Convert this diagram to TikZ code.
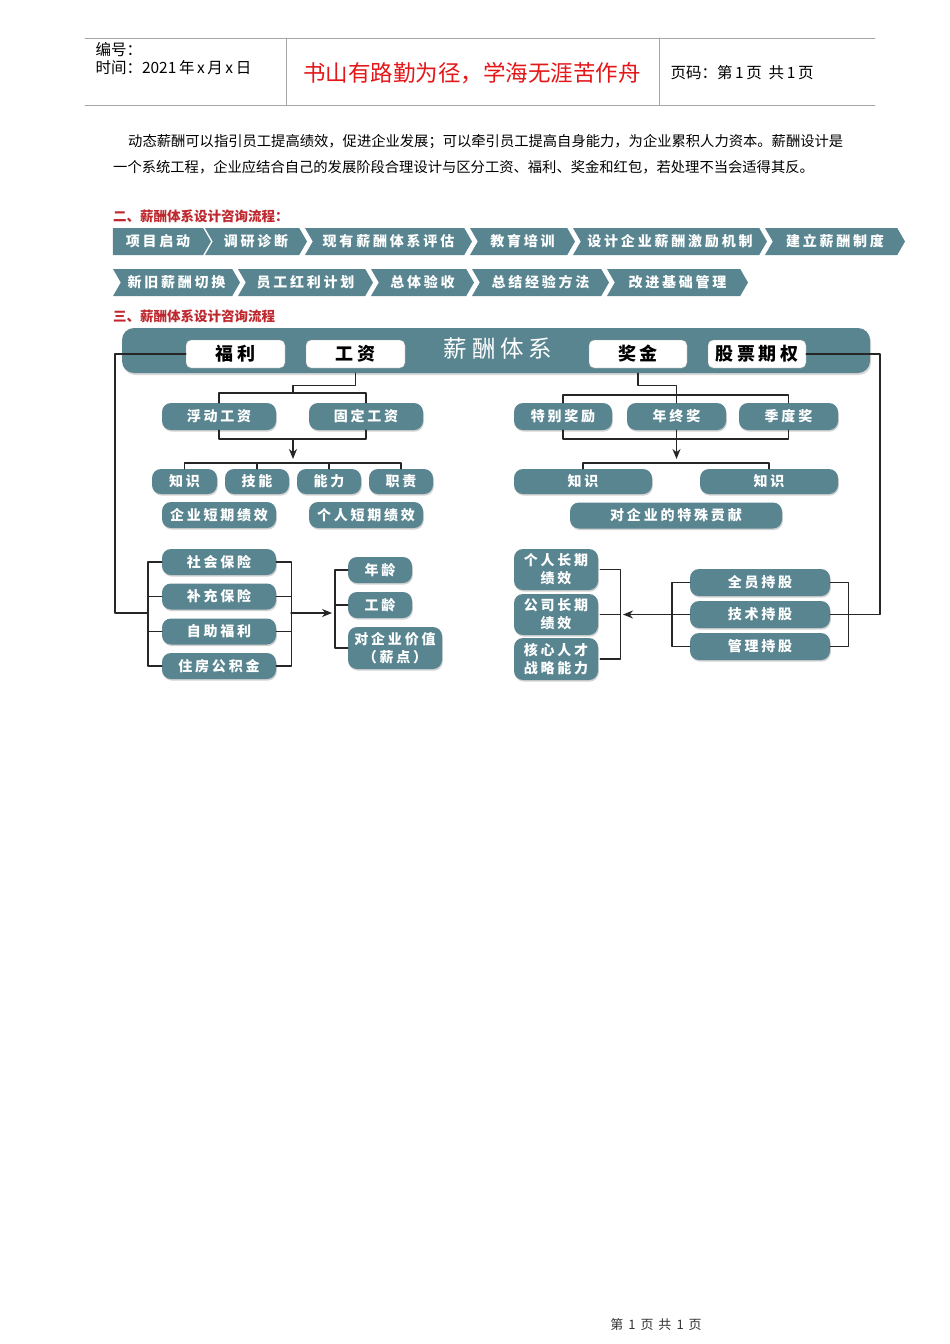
\documentclass[tikz,border=0pt]{standalone}
\usepackage{fontspec}
\setmainfont{Noto Sans CJK SC}
\newfontfamily\cnsp[LetterSpace=20]{Noto Sans CJK SC}
\usetikzlibrary{arrows.meta, positioning, calc, shapes.symbols, shadows}

\definecolor{salt}{RGB}{88,133,144}
\definecolor{headred}{RGB}{190,40,46}
\definecolor{titlered}{RGB}{228,22,24}

\begin{document}
\begin{tikzpicture}[x=1pt, y=-1pt, >=Stealth, line cap=round, line join=round]

	% Styles
	\tikzset{
		rule/.style={gray!70, line width=0.9pt},
		chev/.style={signal, signal to=east, signal pointer angle=120, fill=salt, text=white,
			inner sep=0pt, minimum height=27pt, font=\cnsp\bfseries\fontsize{14}{16}\selectfont},
		chevin/.style={chev, signal from=west},
		pill/.style={rounded corners=9pt, fill=salt, text=white, inner sep=0pt, align=center,
			minimum height=26pt, font=\cnsp\bfseries\fontsize{14}{18}\selectfont,
			drop shadow={shadow xshift=0.8pt, shadow yshift=-1.6pt, opacity=0.35}},
		label/.style={rounded corners=5pt, draw=gray!80, fill=white, inner sep=0pt,
			minimum height=28pt, font=\cnsp\bfseries\fontsize{18}{20}\selectfont},
		link/.style={line width=1.4pt, black!85},
		tip/.style={-{Stealth[length=10pt, width=8pt]}},
		redhead/.style={anchor=west, text=headred, font=\bfseries\fontsize{13.5}{15}\selectfont}
	}

	\fill[white] (0,0) rectangle (950,1344);
	\useasboundingbox (0,0) rectangle (950,1344);

	%======================
	% PAGE HEADER
	%======================
	\draw[rule] (85,38) -- (875,38);
	\draw[rule] (85,105) -- (875,105);
	\draw[rule] (286,38) -- (286,105);
	\draw[rule] (659,38) -- (659,105);
	\node[anchor=west, font=\fontsize{15.5}{17}\selectfont] (num) at (92,50) {编号：};
	\node[anchor=west, font=\fontsize{15.5}{17}\selectfont] (date) at (92,68) {时间：2021\,年\,x\,月\,x\,日};
	\node[text=titlered, font=\fontsize{22.5}{24}\selectfont] (motto) at (472,73) {书山有路勤为径，学海无涯苦作舟};
	\node[anchor=west, font=\fontsize{15.5}{17}\selectfont] (page) at (667,73) {页码：第\,1\,页\ \ 共\,1\,页};

	%======================
	% INTRO TEXT
	%======================
	\node[anchor=west, inner sep=0pt, font=\fontsize{14.3}{16}\selectfont] (intro1) at (128,142)
		{动态薪酬可以指引员工提高绩效，促进企业发展；可以牵引员工提高自身能力，为企业累积人力资本。薪酬设计是};
	\node[anchor=west, inner sep=0pt, font=\fontsize{14.3}{16}\selectfont] (intro2) at (113,167)
		{一个系统工程，企业应结合自己的发展阶段合理设计与区分工资、福利、奖金和红包，若处理不当会适得其反。};

	%======================
	% FLOW OF STEPS
	%======================
	\node[redhead, inner sep=0pt] (head2) at (113,216) {二、薪酬体系设计咨询流程：};

	\node[chev, minimum width=98pt]    (s1) at (158,241.5) {项目启动};
	\node[chevin, minimum width=102pt] (s2) at (256,241.5) {调研诊断};
	\node[chevin, minimum width=167pt] (s3) at (388.5,241.5) {现有薪酬体系评估};
	\node[chevin, minimum width=105pt] (s4) at (522.5,241.5) {教育培训};
	\node[chevin, minimum width=194pt] (s5) at (670,241.5) {设计企业薪酬激励机制};
	\node[chevin, minimum width=140pt] (s6) at (835,241.5) {建立薪酬制度};

	\node[chevin, minimum width=127pt] (s7)  at (176.5,282.5) {新旧薪酬切换};
	\node[chevin, minimum width=135pt] (s8)  at (305.5,282.5) {员工红利计划};
	\node[chevin, minimum width=103pt] (s9)  at (422.5,282.5) {总体验收};
	\node[chevin, minimum width=137pt] (s10) at (540.5,282.5) {总结经验方法};
	\node[chevin, minimum width=141pt] (s11) at (677.5,282.5) {改进基础管理};

	\node[redhead, inner sep=0pt] (head3) at (113,316) {三、薪酬体系设计咨询流程};

	%======================
	% TOP BAR
	%======================
	\node[rounded corners=12pt, fill=salt, minimum width=748pt, minimum height=45pt,
		drop shadow={shadow xshift=1pt, shadow yshift=-2pt, opacity=0.3}] (bar) at (496,350.5) {};
	\node[text=white, font=\cnsp\fontsize{23.5}{25}\selectfont] (sys) at (498,349) {薪酬体系};
	\node[label, minimum width=99pt] (fl) at (235.5,354) {福利};
	\node[label, minimum width=99pt] (gz) at (355.5,354) {工资};
	\node[label, minimum width=98pt] (jj) at (638,354) {奖金};
	\node[label, minimum width=98pt] (gp) at (757,354) {股票期权};

	%======================
	% WAGE BRANCH
	%======================
	\node[pill, minimum width=114pt, minimum height=27pt] (fd) at (219,416.5) {浮动工资};
	\node[pill, minimum width=114pt, minimum height=27pt] (gd) at (366,416.5) {固定工资};

	\node[pill, minimum width=65pt, minimum height=25pt] (zs)  at (184.5,481.5) {知识};
	\node[pill, minimum width=64pt, minimum height=25pt] (jn)  at (257,481.5) {技能};
	\node[pill, minimum width=64pt, minimum height=25pt] (nl)  at (329,481.5) {能力};
	\node[pill, minimum width=64pt, minimum height=25pt] (zz)  at (401,481.5) {职责};
	\node[pill, minimum width=114pt] (qydq) at (219,515) {企业短期绩效};
	\node[pill, minimum width=114pt] (grdq) at (366,515) {个人短期绩效};

	\coordinate (gzj) at (293,393);
	\coordinate (gzk) at (293,439);
	\coordinate (gzl) at (293,463);
	\draw[link] (gz.south |- bar.south) -- ++(0,12) -| (gzj);
	\draw[link] (fd.north) |- (gzj) -| (gd.north);
	\draw[link] (fd.south) |- (gzk) -| (gd.south);
	\draw[link, tip] (gzk) -- ($(gzl)+(0,-4)$);
	\draw[link] (zs.north) |- (gzl) -| (zz.north);
	\draw[link] (jn.north) -- (jn.north |- gzl);
	\draw[link] (nl.north) -- (nl.north |- gzl);

	%======================
	% WELFARE BRANCH
	%======================
	\node[pill, minimum width=114pt] (shbx) at (219,562) {社会保险};
	\node[pill, minimum width=114pt] (bcbx) at (219,596.5) {补充保险};
	\node[pill, minimum width=114pt] (zzfl) at (219,631.5) {自助福利};
	\node[pill, minimum width=114pt] (zfgj) at (219,666) {住房公积金};

	\node[pill, minimum width=64pt] (nianl) at (380,570) {年龄};
	\node[pill, minimum width=64pt] (gongl) at (380,605) {工龄};
	\node[pill, minimum width=94pt, minimum height=42pt] (qyjz) at (395,648) {对企业价值\\（薪点）};

	\coordinate (flin)  at (148,613);
	\coordinate (flout) at (291,613);
	\coordinate (nlin)  at (335,613);
	\draw[link] (fl.west) -- (115,354) |- (flin);
	\draw[link] (shbx.west) -- ++(-14,0) |- (zfgj.west);
	\draw[link] (bcbx.west) -- ++(-14,0);
	\draw[link] (zzfl.west) -- ++(-14,0);
	\draw[link] (shbx.east) -- ++(15,0) |- (zfgj.east);
	\draw[link] (bcbx.east) -- ++(15,0);
	\draw[link] (zzfl.east) -- ++(15,0);
	\draw[link, tip] (flout) -- ($(nlin)+(-3,0)$);
	\draw[link] (nianl.west) -- ++(-13,0) |- (qyjz.west);
	\draw[link] (gongl.west) -- ++(-13,0);

	%======================
	% BONUS BRANCH
	%======================
	\node[pill, minimum width=98pt, minimum height=27pt] (tbjl) at (563,416.5) {特别奖励};
	\node[pill, minimum width=99pt, minimum height=27pt] (nzj)  at (676.5,416.5) {年终奖};
	\node[pill, minimum width=99pt, minimum height=27pt] (jdj)  at (788.5,416.5) {季度奖};

	\node[pill, minimum width=138pt, minimum height=25pt] (zsa) at (583,481.5) {知识};
	\node[pill, minimum width=138pt, minimum height=25pt] (zsb) at (769,481.5) {知识};
	\node[pill, minimum width=212pt] (tsgx) at (676,515.5) {对企业的特殊贡献};

	\coordinate (jjj) at (676.5,395);
	\coordinate (jjk) at (676.5,439);
	\coordinate (jjl) at (676.5,463);
	\draw[link] (jj.south |- bar.south) -- ++(0,12) -| (nzj.north);
	\draw[link] (tbjl.north) |- (jjj) -| (jdj.north);
	\draw[link] (tbjl.south) |- (jjk) -| (jdj.south);
	\draw[link] (nzj.south) -- (jjk);
	\draw[link, tip] (jjk) -- ($(jjl)+(0,-4)$);
	\draw[link] (zsa.north) |- (jjl) -| (zsb.north);

	%======================
	% STOCK OPTION BRANCH
	%======================
	\node[pill, minimum width=84pt, minimum height=41pt] (grcq) at (556,569.5) {个人长期\\绩效};
	\node[pill, minimum width=84pt, minimum height=41pt] (gscq) at (556,614.5) {公司长期\\绩效};
	\node[pill, minimum width=84pt, minimum height=42pt] (hxrc) at (556,659) {核心人才\\战略能力};

	\node[pill, minimum width=140pt, minimum height=27pt] (qycg) at (760,582.5) {全员持股};
	\node[pill, minimum width=140pt, minimum height=27pt] (jscg) at (760,614.5) {技术持股};
	\node[pill, minimum width=140pt, minimum height=27pt] (glcg) at (760,646.5) {管理持股};

	\coordinate (gpin)  at (848,614.5);
	\coordinate (cgout) at (672,614.5);
	\coordinate (cqin)  at (620,614.5);
	\draw[link] (gp.east) -- (880,354) |- (gpin);
	\draw[link] (qycg.east) -- ++(18,0) |- (glcg.east);
	\draw[link] (jscg.east) -- ++(18,0);
	\draw[link] (qycg.west) -- ++(-18,0) |- (glcg.west);
	\draw[link] (jscg.west) -- ++(-18,0);
	\draw[link, tip] (cgout) -- ($(cqin)+(3,0)$);
	\draw[link] ($(grcq.east)+(2,0)$) -- ++(20,0) |- ($(hxrc.east)+(2,0)$);
	\draw[link] ($(gscq.east)+(2,0)$) -- ++(20,0);

	%======================
	% FOOTER
	%======================
	\node[font=\fontsize{13}{15}\selectfont, text=black!80] (foot) at (656,1325)
		{第\hspace{5pt}1\hspace{5pt}页\hspace{5pt}共\hspace{5pt}1\hspace{5pt}页};

\end{tikzpicture}
\end{document}
